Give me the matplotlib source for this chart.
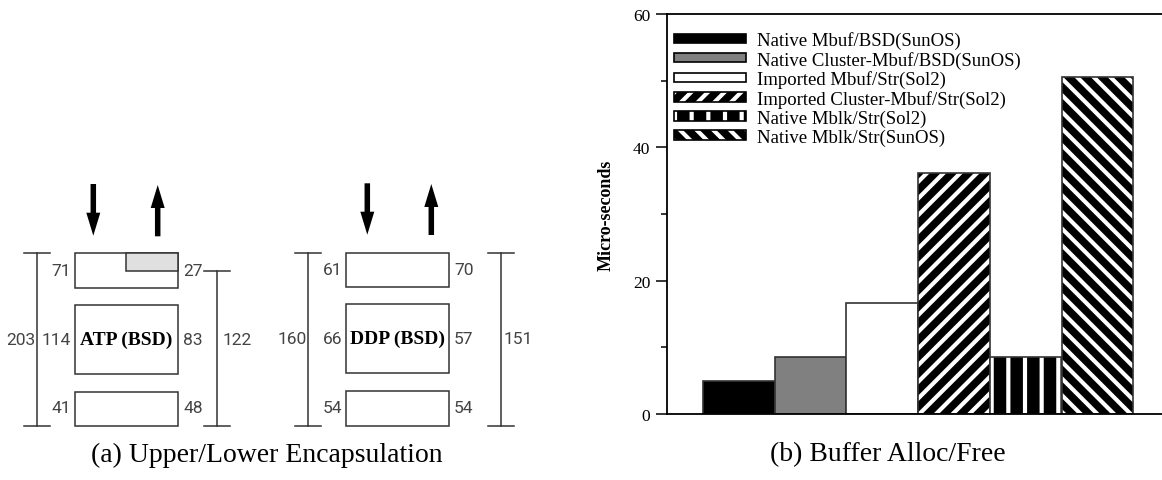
import matplotlib
matplotlib.use("Agg")
import matplotlib.pyplot as plt
import matplotlib.patches as mpatches
from matplotlib.legend_handler import HandlerTuple

plt.rcParams['hatch.linewidth'] = 3.0

# ---------------- data ----------------
bar_labels = ['Native Mbuf/BSD(SunOS)', 'Native Cluster-Mbuf/BSD(SunOS)',
              'Imported Mbuf/Str(Sol2)', 'Imported Cluster-Mbuf/Str(Sol2)',
              'Native Mblk/Str(Sol2)', 'Native Mblk/Str(SunOS)']
bar_values = [5.0, 8.6, 16.6, 36.2, 8.6, 50.5]
y_major = [0, 20, 40, 60]
y_minor = [10, 30, 50]
y_label = 'Micro-seconds'

protocols = ['ATP (BSD)', 'DDP (BSD)']
atp_left = [71, 114, 41]
atp_right = [27, 83, 48]
atp_totals = [203, 122]
ddp_left = [61, 66, 54]
ddp_right = [70, 57, 54]
ddp_totals = [160, 151]
captions = ['(a) Upper/Lower Encapsulation', '(b) Buffer Alloc/Free']

# ---------------- figure ----------------
W, H = 1162, 481
fig = plt.figure(figsize=(W / 100, H / 100), dpi=100)
axd = fig.add_axes([0, 0, 1, 1])
axd.set_xlim(0, W)
axd.set_ylim(H, 0)
axd.axis('off')

num_font = dict(family=['Roboto', 'DejaVu Sans'], fontweight='normal',
                fontsize=12.5, color='#444444')
lc = '#333333'

def draw_group(x0, ytops, left_vals, right_vals, name, bracket_l, bracket_r,
               gray=False, arrows=()):
    bw = 103
    for (yt, yb) in ytops:
        axd.add_patch(mpatches.Rectangle((x0, yt), bw, yb - yt, fill=False, ec=lc, lw=1.1))
    if gray:
        yt = ytops[0][0]
        axd.add_patch(mpatches.Rectangle((x0 + 51, yt), bw - 51, 17.5, fc='#e0e0e0', ec=lc, lw=1.1))
    ys = [(ytops[0][0] + ytops[0][1]) / 2 - 0.5, (ytops[1][0] + ytops[1][1]) / 2,
          (ytops[2][0] + ytops[2][1]) / 2 - 1]
    ys_r = list(ys)
    if gray:
        ys_r[0] = ytops[0][0] + 17.5
    for v, y in zip(left_vals, ys):
        axd.text(x0 - 4, y, str(v), ha='right', va='center', **num_font)
    for v, y in zip(right_vals, ys_r):
        axd.text(x0 + bw + 5, y, str(v), ha='left', va='center', **num_font)
    axd.text(x0 + bw / 2, ys[1], name, ha='center', va='center',
             family='Liberation Serif', fontweight='bold', fontsize=14, color='black')
    for (bx, ytop, ybot, val, tx) in (bracket_l, bracket_r):
        axd.plot([bx, bx], [ytop, ybot], color=lc, lw=1.1)
        axd.plot([bx - 13, bx + 13], [ytop, ytop], color=lc, lw=1.1)
        axd.plot([bx - 13, bx + 13], [ybot, ybot], color=lc, lw=1.1)
        axd.text(tx, ys[1], str(val), ha='center', va='center', **num_font)
    for (ax_x, y_from, y_to) in arrows:
        axd.add_patch(mpatches.FancyArrow(ax_x, y_from, 0, y_to - y_from, width=5.5,
                                          head_width=14, head_length=23,
                                          length_includes_head=True, color='black', lw=0))

draw_group(75, [(254.3, 289), (306.3, 375.3), (392.7, 427.3)], atp_left, atp_right,
           protocols[0],
           (36.7, 254.3, 427.3, atp_totals[0], 21),
           (216.7, 272, 427.3, atp_totals[1], 237.5),
           gray=True,
           arrows=[(93.3, 185, 236.7), (157.7, 237.3, 186)])
draw_group(346, [(253.7, 288), (305.3, 374.3), (391.7, 426.7)], ddp_left, ddp_right,
           protocols[1],
           (307.7, 253.7, 426.7, ddp_totals[0], 292),
           (500.7, 253.7, 426.7, ddp_totals[1], 518),
           gray=False,
           arrows=[(367.3, 184.3, 235.7), (431.3, 236, 185)])

fig.text(267 / W, 1 - 455 / H, captions[0], ha='center', va='center',
         family='Liberation Serif', fontsize=20)
fig.text(888 / W, 1 - 455 / H, captions[1], ha='center', va='center',
         family='Liberation Serif', fontsize=20)

# ---------------- bar chart ----------------
ax = fig.add_axes([667 / W, (H - 415) / H, (W - 667) / W, 400 / H])
ax.set_xlim(-1.0, 5.9)
ax.set_ylim(0, 60)

styles = [
    dict(fc='black', hatch=None),
    dict(fc='#808080', hatch=None),
    dict(fc='white', hatch=None),
    dict(fc='black', hatch='//'),
    dict(fc='black', hatch='|'),
    dict(fc='black', hatch='\\\\'),
]
edge = '#333333'
handles = []
xs = list(range(len(bar_values)))
for x, v, st in zip(xs, bar_values, styles):
    if st['hatch']:
        ax.bar(x, v, width=1.0, color='black', edgecolor='white', hatch=st['hatch'], lw=0)
        ax.bar(x, v, width=1.0, fill=False, edgecolor=edge, lw=1.2)
        h = (mpatches.Patch(facecolor='black', edgecolor='white', hatch=st['hatch'], lw=0),
             mpatches.Patch(facecolor='none', edgecolor='black', lw=1.2))
    else:
        ax.bar(x, v, width=1.0, color=st['fc'], edgecolor=edge, lw=1.2)
        h = mpatches.Patch(facecolor=st['fc'], edgecolor='black', lw=1.2)
    handles.append(h)

ax.spines['right'].set_visible(False)
for s in ['left', 'bottom', 'top']:
    ax.spines[s].set_linewidth(1.3)
ax.set_xticks([])
ax.set_yticks(y_major)
ax.set_yticks(y_minor, minor=True)
ax.tick_params(axis='y', which='major', direction='out', length=8, width=1.1,
               labelsize=12.5, pad=4)
ax.tick_params(axis='y', which='minor', direction='out', length=4, width=1.1)
for lab in ax.get_yticklabels():
    lab.set_family('Liberation Serif')
ax.set_ylabel(y_label, family='Liberation Serif', fontweight='bold', fontsize=13, labelpad=13)
ax.patch.set_alpha(0)

leg = fig.legend(handles, bar_labels, loc='upper left',
                 bbox_to_anchor=(674 / W, 1 - 32 / H), frameon=False,
                 prop=dict(family='Liberation Serif', size=13.5),
                 handlelength=3.84, handleheight=0.37, handletextpad=0.59,
                 labelspacing=0.09, borderpad=0, borderaxespad=0,
                 handler_map={tuple: HandlerTuple(ndivide=1, pad=0)})

fig.savefig('out.png', dpi=100)
